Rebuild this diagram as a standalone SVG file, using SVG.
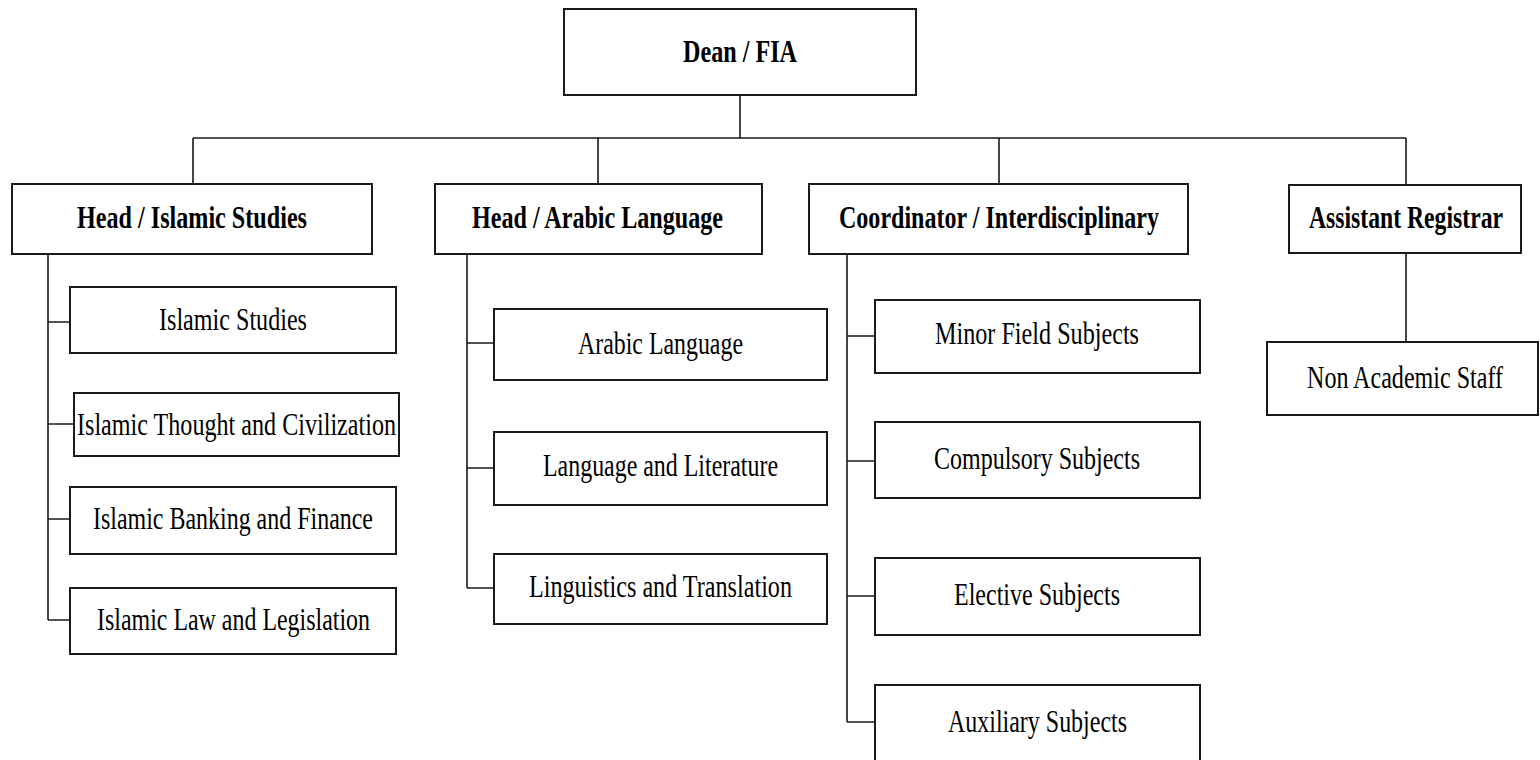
<svg xmlns="http://www.w3.org/2000/svg" width="1540" height="760" viewBox="0 0 1540 760">
<style>
.box{fill:#fff;stroke:#1a1a1a;stroke-width:2}
.ln{fill:none;stroke:#1a1a1a;stroke-width:1.6}
.t{font-family:'Liberation Serif','Times New Roman',Tinos,'DejaVu Serif',serif;font-size:31px;fill:#000}
.b{font-weight:bold}
</style>
<rect width="1540" height="760" fill="#fff"/>
<g id="connectors">
<path class="ln" d="M740,95 V138 M193,138 H1406 M193,138 V184 M598,138 V184 M999,138 V184 M1406,138 V185"/>
<path class="ln" d="M48,254 V620 M48,322 H70 M48,424 H74 M48,519 H70 M48,620 H70"/>
<path class="ln" d="M467,254 V588 M467,343 H494 M467,468 H494 M467,588 H494"/>
<path class="ln" d="M847,254 V722 M847,336 H875 M847,461 H875 M847,596 H875 M847,722 H875"/>
<path class="ln" d="M1406,253 V342"/>
</g>
<g id="dean"><rect class="box" x="564" y="9" width="352" height="86"/><text class="t b" x="683" y="62" textLength="114" lengthAdjust="spacingAndGlyphs">Dean / FIA</text></g>
<g id="head-islamic"><rect class="box" x="12" y="184" width="360" height="70"/><text class="t b" x="77" y="228" textLength="230" lengthAdjust="spacingAndGlyphs">Head / Islamic Studies</text></g>
<g id="head-arabic"><rect class="box" x="435" y="184" width="327" height="70"/><text class="t b" x="472" y="228" textLength="251" lengthAdjust="spacingAndGlyphs">Head / Arabic Language</text></g>
<g id="coordinator"><rect class="box" x="809" y="184" width="379" height="70"/><text class="t b" x="839" y="228" textLength="320" lengthAdjust="spacingAndGlyphs">Coordinator / Interdisciplinary</text></g>
<g id="assistant-registrar"><rect class="box" x="1289" y="185" width="232" height="68"/><text class="t b" x="1309" y="228" textLength="194" lengthAdjust="spacingAndGlyphs">Assistant Registrar</text></g>
<g id="islamic-studies"><rect class="box" x="70" y="287" width="326" height="66"/><text class="t" x="159" y="330" textLength="148" lengthAdjust="spacingAndGlyphs">Islamic Studies</text></g>
<g id="islamic-thought"><rect class="box" x="74" y="393" width="325" height="63"/><text class="t" x="77" y="435" textLength="319" lengthAdjust="spacingAndGlyphs">Islamic Thought and Civilization</text></g>
<g id="islamic-banking"><rect class="box" x="70" y="487" width="326" height="67"/><text class="t" x="93" y="529" textLength="280" lengthAdjust="spacingAndGlyphs">Islamic Banking and Finance</text></g>
<g id="islamic-law"><rect class="box" x="70" y="588" width="326" height="66"/><text class="t" x="97" y="630" textLength="273" lengthAdjust="spacingAndGlyphs">Islamic Law and Legislation</text></g>
<g id="arabic-language"><rect class="box" x="494" y="309" width="333" height="71"/><text class="t" x="578" y="354" textLength="165" lengthAdjust="spacingAndGlyphs">Arabic Language</text></g>
<g id="language-literature"><rect class="box" x="494" y="432" width="333" height="73"/><text class="t" x="543" y="476" textLength="235" lengthAdjust="spacingAndGlyphs">Language and Literature</text></g>
<g id="linguistics-translation"><rect class="box" x="494" y="554" width="333" height="70"/><text class="t" x="529" y="597" textLength="263" lengthAdjust="spacingAndGlyphs">Linguistics and Translation</text></g>
<g id="minor-field"><rect class="box" x="875" y="300" width="325" height="73"/><text class="t" x="935" y="344" textLength="204" lengthAdjust="spacingAndGlyphs">Minor Field Subjects</text></g>
<g id="compulsory"><rect class="box" x="875" y="422" width="325" height="76"/><text class="t" x="934" y="469" textLength="206" lengthAdjust="spacingAndGlyphs">Compulsory Subjects</text></g>
<g id="elective"><rect class="box" x="875" y="558" width="325" height="77"/><text class="t" x="954" y="605" textLength="166" lengthAdjust="spacingAndGlyphs">Elective Subjects</text></g>
<g id="auxiliary"><rect class="box" x="875" y="685" width="325" height="80"/><text class="t" x="948" y="732" textLength="179" lengthAdjust="spacingAndGlyphs">Auxiliary Subjects</text></g>
<g id="non-academic"><rect class="box" x="1267" y="342" width="271" height="73"/><text class="t" x="1307" y="388" textLength="196" lengthAdjust="spacingAndGlyphs">Non Academic Staff</text></g>
</svg>
